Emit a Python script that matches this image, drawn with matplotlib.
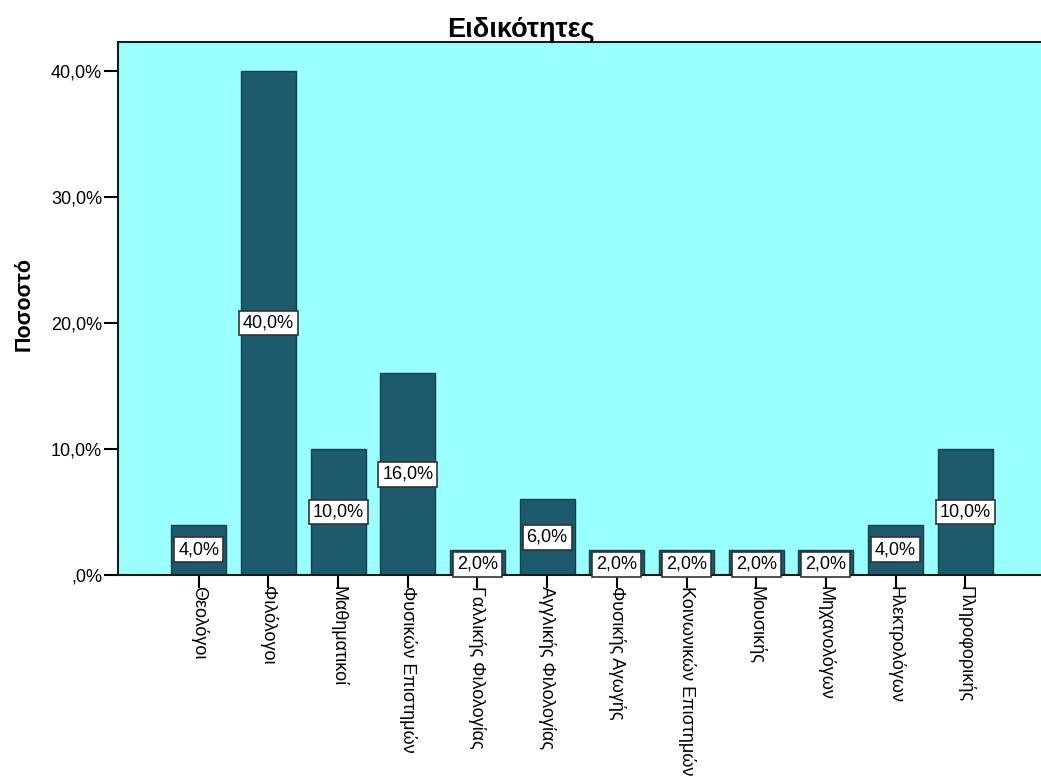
import matplotlib.pyplot as plt
import numpy as np
from matplotlib.ticker import FuncFormatter

plt.rcParams['font.family'] = ['Liberation Sans', 'DejaVu Sans']

categories = ['Θεολόγοι', 'Φιλόλογοι', 'Μαθηματικοί', 'Φυσικών Επιστημών',
              'Γαλλικής Φιλολογίας', 'Αγγλικής Φιλολογίας', 'Φυσικής Αγωγής',
              'Κοινωνικών Επιστημών', 'Μουσικής', 'Μηχανολόγων',
              'Ηλεκτρολόγων', 'Πληροφορικής']
percent = [4.0, 40.0, 10.0, 16.0, 2.0, 6.0, 2.0, 2.0, 2.0, 2.0, 4.0, 10.0]
yticks = [0, 10, 20, 30, 40]


def fmt(v):
    s = '%.1f%%' % v
    s = s.replace('.', ',')
    if s.startswith('0,'):
        s = s[1:]
    return s


fig = plt.figure(figsize=(10.41, 7.80), dpi=100)
ax = fig.add_axes([118 / 1041, 1 - 575 / 780, (1046 - 118) / 1041, (575 - 42) / 780])
ax.set_facecolor('#99ffff')

x = np.arange(len(categories))
ax.bar(x, percent, width=0.79, color='#1d5a6b', edgecolor='#123f4d', linewidth=1.0, zorder=2)

# labels in the middle of the bars, small bars get them near the base
for xi, v in zip(x, percent):
    ax.text(xi, v / 2 if v > 3 else 0.85, fmt(v), ha='center', va='center', fontsize=13,
            bbox=dict(boxstyle='square,pad=0.22', fc='white', ec='#333333', lw=1.2), zorder=3)

ax.set_xlim(-1.16, len(categories) - 1 + 1.16)
ax.set_ylim(0, 42.3)
ax.set_yticks(yticks)
ax.yaxis.set_major_formatter(FuncFormatter(lambda v, p: fmt(v)))
ax.set_xticks(x)
ax.set_xticklabels(categories, rotation=270, va='top', ha='center')
ax.tick_params(axis='both', direction='out', length=10, width=1.5, color='black',
               labelsize=13, pad=1.5)
ax.tick_params(axis='x', length=9, pad=-1)

for side in ['left', 'bottom', 'top']:
    ax.spines[side].set_linewidth(1.5)
    ax.spines[side].set_color('#1a1a1a')
ax.spines['right'].set_visible(False)

fig.text(24 / 1041, 1 - 304 / 780, 'Ποσοστό', rotation=90, ha='center', va='center',
         fontsize=15.5, fontweight='bold')
fig.text(521 / 1041, 1 - 30 / 780, 'Ειδικότητες', ha='center', va='center',
         fontsize=19.5, fontweight='bold')

fig.savefig('out.png', dpi=100)
